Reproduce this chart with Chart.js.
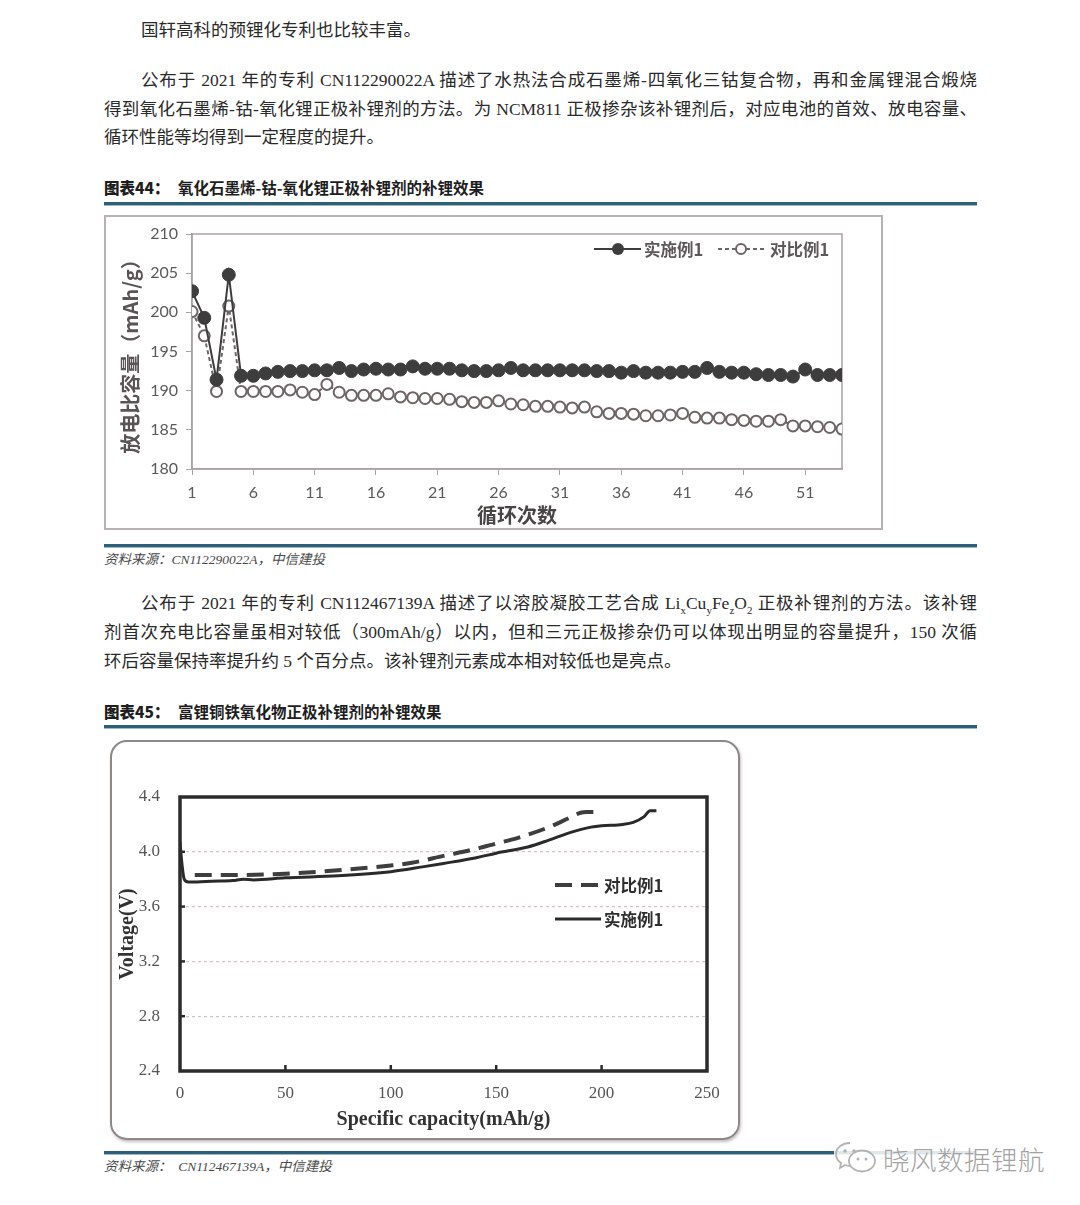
<!DOCTYPE html>
<html lang="zh-CN">
<head>
<meta charset="utf-8">
<script src="https://cdn.jsdelivr.net/npm/chart.js@4.4.1/dist/chart.umd.min.js"></script>
<style>
  html, body { margin: 0; padding: 0; background: #fff; }
  #page { position: relative; width: 1080px; height: 1205px; overflow: hidden;
    font-family: "Liberation Serif", "Noto Sans CJK SC", serif; color: #2a2a2a; }
  .txt { position: absolute; font-size: 17.5px; line-height: 24px; white-space: nowrap; }
  .just { text-align: justify; text-align-last: justify; white-space: normal; }
  .head { position: absolute; left: 104px; font-family: "Noto Sans CJK SC", sans-serif;
    font-weight: bold; font-size: 15.5px; line-height: 22px; color: #1e1e1e; white-space: nowrap; }
  .head b { display: inline-block; width: 74px; }
  .rule { position: absolute; left: 104px; width: 873px; height: 3px; background: #2d5f78;
    box-shadow: 0 1px 0 #9fb8c4; }
  .src { position: absolute; left: 104px; font-size: 13.5px; line-height: 18px; font-style: italic;
    color: #4a4a4a; white-space: nowrap; }
  sub { font-size: 11px; line-height: 0; }
  #frame1 { position: absolute; left: 104px; top: 215px; width: 779px; height: 315px;
    box-sizing: border-box; border: 2px solid #b9b1b1; }
  #frame2 { position: absolute; left: 110px; top: 740px; width: 630px; height: 400px;
    box-sizing: border-box; border: 2px solid #8f8686; border-radius: 17px;
    box-shadow: 1px 2px 3px rgba(0, 0, 0, 0.25); }
  canvas { position: absolute; }
  #mark { position: absolute; left: 834px; top: 1138px; height: 40px; display: flex; align-items: center;
    background: rgba(255, 255, 255, 0.85); padding-right: 4px; }
  #mark span { font-family: "Noto Sans CJK SC", sans-serif; font-size: 26.5px; font-weight: 300;
    color: #a3a3a3; margin-left: 5px; letter-spacing: 0.5px; }
</style>
</head>
<body>
<div id="page">
  <div class="txt" style="left:141px; top:18px;">国轩高科的预锂化专利也比较丰富。</div>

  <div class="txt just" style="left:141px; top:68px; width:836px;">公布于 2021 年的专利 CN112290022A 描述了水热法合成石墨烯-四氧化三钴复合物，再和金属锂混合煅烧</div>
  <div class="txt just" style="left:104px; top:97px; width:873px;">得到氧化石墨烯-钴-氧化锂正极补锂剂的方法。为 NCM811 正极掺杂该补锂剂后，对应电池的首效、放电容量、</div>
  <div class="txt" style="left:104px; top:125px;">循环性能等均得到一定程度的提升。</div>

  <div class="head" style="top:176px;"><b>图表44：</b>氧化石墨烯-钴-氧化锂正极补锂剂的补锂效果</div>
  <div class="rule" style="top:202px;"></div>

  <div id="frame1"></div>
  <canvas id="cycleChart" width="779" height="315" style="left:104px; top:215px;"></canvas>

  <div class="rule" style="top:544px;"></div>
  <div class="src" style="top:551px;">资料来源：CN112290022A，中信建投</div>

  <div class="txt just" style="left:141px; top:591px; width:836px;">公布于 2021 年的专利 CN112467139A 描述了以溶胶凝胶工艺合成 Li<sub>x</sub>Cu<sub>y</sub>Fe<sub>z</sub>O<sub>2</sub> 正极补锂剂的方法。该补锂</div>
  <div class="txt just" style="left:104px; top:620px; width:873px;">剂首次充电比容量虽相对较低（300mAh/g）以内，但和三元正极掺杂仍可以体现出明显的容量提升，150 次循</div>
  <div class="txt" style="left:104px; top:649px;">环后容量保持率提升约 5 个百分点。该补锂剂元素成本相对较低也是亮点。</div>

  <div class="head" style="top:700px;"><b>图表45：</b>富锂铜铁氧化物正极补锂剂的补锂效果</div>
  <div class="rule" style="top:725px;"></div>

  <div id="frame2"></div>
  <canvas id="voltChart" width="630" height="400" style="left:110px; top:740px;"></canvas>

  <div class="rule" style="top:1151px;"></div>
  <div class="src" style="top:1158px;">资料来源：&nbsp; CN112467139A，中信建投</div>

  <div id="mark">
    <svg width="44" height="36" viewBox="0 0 44 36">
      <path d="M16 3 C8 3 2 8 2 14 C2 18 4 21 7 23 L6 28 L11 25 C13 26 15 26 17 26" fill="none" stroke="#b3b3b3" stroke-width="1.8"/>
      <ellipse cx="28" cy="21" rx="13" ry="10.5" fill="#fff" stroke="#b3b3b3" stroke-width="1.8"/>
      <circle cx="11" cy="11" r="1.8" fill="#b3b3b3"/>
      <circle cx="20" cy="11" r="1.8" fill="#b3b3b3"/>
      <circle cx="24" cy="19" r="1.5" fill="#b3b3b3"/>
      <circle cx="32" cy="19" r="1.5" fill="#b3b3b3"/>
    </svg>
    <span>晓风数据锂航</span>
  </div>
</div>

<script>
/* 图表44 data: discharge capacity vs cycle */
const cycleNo = [1, 2, 3, 4, 5, 6, 7, 8, 9, 10, 11, 12, 13, 14, 15, 16, 17, 18, 19, 20,
  21, 22, 23, 24, 25, 26, 27, 28, 29, 30, 31, 32, 33, 34, 35, 36, 37, 38, 39, 40,
  41, 42, 43, 44, 45, 46, 47, 48, 49, 50, 51, 52, 53, 54];
const cycleTicks = [1, 6, 11, 16, 21, 26, 31, 36, 41, 46, 51];
const dischargeA = [202.7, 199.3, 191.4, 204.8, 191.9, 191.9, 192.2, 192.4, 192.5, 192.5,
  192.6, 192.6, 192.9, 192.5, 192.7, 192.8, 192.7, 192.7, 193.1, 192.8,
  192.8, 192.8, 192.6, 192.5, 192.5, 192.6, 192.9, 192.6, 192.6, 192.6,
  192.6, 192.6, 192.6, 192.5, 192.5, 192.3, 192.5, 192.3, 192.3, 192.3,
  192.4, 192.4, 192.9, 192.4, 192.3, 192.3, 192.1, 192.0, 192.0, 191.8,
  192.7, 192.0, 192.0, 192.0];
const dischargeB = [200.1, 197.0, 189.9, 200.8, 189.9, 189.9, 189.9, 189.9, 190.1, 189.8,
  189.5, 190.8, 189.8, 189.4, 189.4, 189.4, 189.6, 189.2, 189.1, 189.0,
  189.0, 188.9, 188.6, 188.5, 188.5, 188.7, 188.3, 188.2, 188.0, 188.0,
  187.9, 187.8, 187.9, 187.3, 187.1, 187.1, 187.0, 186.8, 186.8, 186.9,
  187.1, 186.6, 186.5, 186.5, 186.3, 186.2, 186.1, 186.1, 186.3, 185.5,
  185.5, 185.4, 185.3, 185.1];
const cycleSeries = ["实施例1", "对比例1"];

/* 图表45 data: voltage vs specific capacity */
const capA = [0, 1, 2, 4, 8, 15, 25, 30, 35, 50, 75, 100, 115, 125, 140, 150, 165, 175, 185, 195, 200, 210, 215, 220, 223, 226];
const voltA = [4.07, 3.9, 3.8, 3.78, 3.78, 3.785, 3.79, 3.8, 3.795, 3.81, 3.825, 3.855, 3.89, 3.915, 3.955, 3.99, 4.035, 4.085, 4.14, 4.18, 4.19, 4.2, 4.215, 4.255, 4.3, 4.3];
const capB = [7, 25, 50, 75, 100, 110, 125, 140, 150, 160, 175, 185, 190, 193, 197];
const voltB = [3.83, 3.83, 3.84, 3.865, 3.9, 3.92, 3.97, 4.02, 4.06, 4.1, 4.18, 4.25, 4.285, 4.29, 4.29];
const voltSeries = ["对比例1", "实施例1"];

const cjk = "'Noto Sans CJK SC', sans-serif";
const serif = "'Liberation Serif', 'Noto Sans CJK SC', serif";

// plot-area box
const frameBox = {
  id: "frameBox",
  beforeDatasetsDraw(chart, args, opts) {
    if (opts.front) return;
    drawBox(chart, opts);
  },
  afterDatasetsDraw(chart, args, opts) {
    if (!opts.front) return;
    drawBox(chart, opts);
  },
};
function drawBox(chart, opts) {
  const { ctx, chartArea: a } = chart;
  ctx.save();
  ctx.strokeStyle = opts.color;
  ctx.lineWidth = opts.width;
  ctx.strokeRect(a.left, a.top, a.right - a.left, a.bottom - a.top);
  // inward tick marks
  if (opts.innerTicks) {
    const xs = chart.scales.x, ys = chart.scales.y;
    ctx.lineWidth = 2.5;
    xs.ticks.forEach((t) => {
      const px = xs.getPixelForValue(t.value);
      if (px <= a.left + 2 || px >= a.right - 2) return;
      ctx.beginPath();
      ctx.moveTo(px, a.bottom);
      ctx.lineTo(px, a.bottom - 6);
      ctx.stroke();
    });
    ys.ticks.forEach((t) => {
      const py = ys.getPixelForValue(t.value);
      if (py <= a.top + 2 || py >= a.bottom - 2) return;
      ctx.beginPath();
      ctx.moveTo(a.left, py);
      ctx.lineTo(a.left + 5, py);
      ctx.stroke();
    });
  }
  ctx.restore();
}

// 图表44 legend: line + marker samples
const cycleLegend = {
  id: "cycleLegend",
  afterDraw(chart) {
    const { ctx, chartArea: a } = chart;
    const ds = chart.data.datasets;
    const y = a.top + 15;
    ctx.save();
    ctx.font = "bold 16.5px " + cjk;
    ctx.fillStyle = "#5e5858";
    ctx.textBaseline = "middle";
    // solid sample
    let x = a.right - 248;
    ctx.strokeStyle = ds[0].borderColor;
    ctx.lineWidth = 2;
    ctx.beginPath(); ctx.moveTo(x, y); ctx.lineTo(x + 47, y); ctx.stroke();
    ctx.fillStyle = ds[0].pointBackgroundColor;
    ctx.beginPath(); ctx.arc(x + 24, y, 6, 0, Math.PI * 2); ctx.fill();
    ctx.fillStyle = "#5e5858";
    ctx.fillText(ds[0].label, x + 50, y + 1);
    // dashed sample
    x = a.right - 124;
    ctx.strokeStyle = ds[1].borderColor;
    ctx.setLineDash([4, 3]);
    ctx.beginPath(); ctx.moveTo(x, y); ctx.lineTo(x + 46, y); ctx.stroke();
    ctx.setLineDash([]);
    ctx.fillStyle = "#fff";
    ctx.beginPath(); ctx.arc(x + 23, y, 5, 0, Math.PI * 2); ctx.fill(); ctx.stroke();
    ctx.fillStyle = "#5e5858";
    ctx.fillText(ds[1].label, x + 52, y + 1);
    ctx.restore();
  },
};

// 图表45 legend
const voltLegend = {
  id: "voltLegend",
  afterDraw(chart) {
    const { ctx, chartArea: a } = chart;
    const ds = chart.data.datasets;
    const rows = [a.top + 88, a.top + 122];
    ctx.save();
    ctx.font = "bold 16.5px " + cjk;
    ctx.textBaseline = "middle";
    ds.forEach((d, i) => {
      const x = a.left + 375, y = rows[i];
      ctx.strokeStyle = d.borderColor;
      ctx.lineWidth = d.borderWidth;
      ctx.setLineDash(d.borderDash || []);
      ctx.beginPath(); ctx.moveTo(x, y); ctx.lineTo(x + 46, y); ctx.stroke();
      ctx.setLineDash([]);
      ctx.fillStyle = "#2e2e2e";
      ctx.fillText(d.label, x + 49, y + 1);
    });
    ctx.restore();
  },
};

function cycleChart() {
  const ctx = document.getElementById("cycleChart").getContext("2d");
  const axisGray = "#aaa2a2";
  const tickFont = { family: "Lato, 'Open Sans', sans-serif", size: 16 };

  new Chart(ctx, {
    type: "line",
    data: {
      datasets: [
        {
          label: cycleSeries[0],
          data: dischargeA.map((v, i) => ({ x: cycleNo[i], y: v })),
          borderColor: "#3d3d3d",
          borderWidth: 2,
          pointRadius: 6.5,
          pointBackgroundColor: "#3d3d3d",
          pointBorderColor: "#3d3d3d",
          pointBorderWidth: 1,
          tension: 0,
        },
        {
          label: cycleSeries[1],
          data: dischargeB.map((v, i) => ({ x: cycleNo[i], y: v })),
          borderColor: "#6e6464",
          borderWidth: 2,
          borderDash: [4, 3],
          pointRadius: 5.5,
          pointBackgroundColor: "#fff",
          pointBorderColor: "#6e6464",
          pointBorderWidth: 2,
          tension: 0,
        },
      ],
    },
    options: {
      responsive: false,
      animation: false,
      layout: { padding: { top: 19, right: 41, bottom: 0, left: 0 } },
      plugins: {
        legend: { display: false },
        tooltip: { enabled: false },
        frameBox: { color: axisGray, width: 1.5, front: false },
      },
      scales: {
        x: {
          type: "linear",
          min: 1,
          max: 54,
          afterBuildTicks: (axis) => {
            axis.ticks = cycleTicks.map((v) => ({ value: v }));
          },
          afterFit: (axis) => { axis.height = 61; },
          grid: { drawOnChartArea: false, drawTicks: true, tickLength: 6, color: axisGray },
          border: { color: axisGray, width: 1.5 },
          ticks: { autoSkip: false, maxRotation: 0, padding: 8, color: "#5a5a5a", font: tickFont },
          title: {
            display: true,
            text: "循环次数",
            color: "#4a4545",
            font: { family: cjk, size: 20, weight: "bold" },
            padding: { top: 0, bottom: 3 },
          },
        },
        y: {
          min: 180,
          max: 210,
          afterFit: (axis) => { axis.width = 88; },
          grid: { drawOnChartArea: false, drawTicks: true, tickLength: 6, color: axisGray },
          border: { color: axisGray, width: 1.5 },
          ticks: { stepSize: 5, padding: 8, color: "#5a5a5a", font: tickFont },
          title: {
            display: true,
            text: "放电比容量（mAh/g）",
            color: "#5a5454",
            font: { family: cjk, size: 20, weight: "bold" },
            padding: { top: 14, bottom: 0 },
          },
        },
      },
    },
    plugins: [frameBox, cycleLegend],
  });
}
cycleChart();

function voltChart() {
  const ctx = document.getElementById("voltChart").getContext("2d");
  const tickFont = { family: serif, size: 17 };

  new Chart(ctx, {
    type: "line",
    data: {
      datasets: [
        {
          label: voltSeries[0],
          data: voltB.map((v, i) => ({ x: capB[i], y: v })),
          borderColor: "#3e3e3e",
          borderWidth: 4,
          borderDash: [17, 9],
          pointRadius: 0,
          cubicInterpolationMode: "monotone",
        },
        {
          label: voltSeries[1],
          data: voltA.map((v, i) => ({ x: capA[i], y: v })),
          borderColor: "#2a2a2a",
          borderWidth: 3,
          pointRadius: 0,
          cubicInterpolationMode: "monotone",
        },
      ],
    },
    options: {
      responsive: false,
      animation: false,
      layout: { padding: { top: 57, right: 33, bottom: 0, left: 0 } },
      plugins: {
        legend: { display: false },
        tooltip: { enabled: false },
        frameBox: { color: "#2b2b2b", width: 3.5, front: true, innerTicks: true },
      },
      scales: {
        x: {
          type: "linear",
          min: 0,
          max: 250,
          afterFit: (axis) => { axis.height = 69; },
          grid: { display: false },
          border: { display: false },
          ticks: { stepSize: 50, padding: 4, maxRotation: 0, color: "#555", font: tickFont },
          title: {
            display: true,
            text: "Specific capacity(mAh/g)",
            color: "#333",
            font: { family: serif, size: 20, weight: "bold" },
            padding: { top: 0, bottom: 8 },
          },
        },
        y: {
          min: 2.4,
          max: 4.4,
          afterFit: (axis) => { axis.width = 70; },
          grid: { drawTicks: false, color: "#d7c0c0", lineWidth: 1.2 },
          border: { display: false, dash: [3, 3] },
          ticks: {
            stepSize: 0.4,
            padding: 20,
            color: "#555",
            font: tickFont,
            callback: (v) => Number(v).toFixed(1),
          },
          title: {
            display: true,
            text: "Voltage(V)",
            color: "#333",
            font: { family: serif, size: 20, weight: "bold" },
            padding: { top: 6, bottom: 0 },
          },
        },
      },
    },
    plugins: [frameBox, voltLegend],
  });
}
voltChart();
</script>
</body>
</html>
